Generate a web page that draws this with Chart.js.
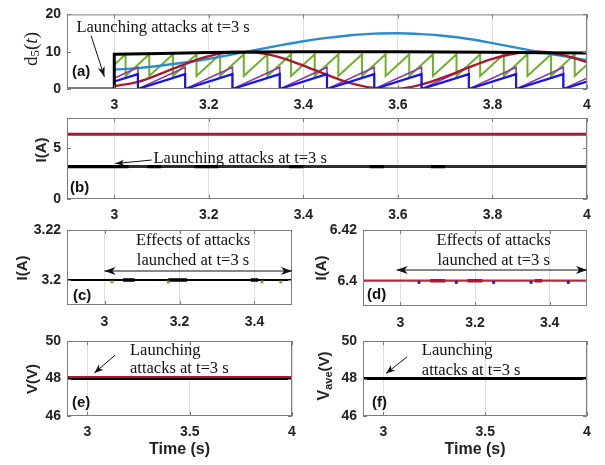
<!DOCTYPE html>
<html>
<head>
<meta charset="utf-8">
<script src="https://cdn.jsdelivr.net/npm/chart.js@4.4.1/dist/chart.umd.min.js"></script>
<style>
  html, body { margin: 0; padding: 0; background: #ffffff; }
  #wrap { position: relative; width: 605px; height: 465px; overflow: hidden; background: #ffffff; }
  #wrap canvas { position: absolute; left: 0; top: 0; }
</style>
</head>
<body>
<div id="wrap"></div>
<script>
// ---------- (a) attack signals d5(t) ----------
const tBlackA = [2.9, 3.0, 3.0, 3.1, 3.2, 3.3, 3.4, 3.5, 3.6, 3.7, 3.8, 3.9, 4.0];
const vBlackA = [0, 0, 9.3, 9.55, 9.8, 9.95, 10, 10, 10, 9.95, 9.85, 9.75, 9.65];

const tSmoothA = [3.00, 3.05, 3.10, 3.15, 3.20, 3.25, 3.30, 3.35, 3.40, 3.45, 3.50,
                  3.55, 3.60, 3.65, 3.70, 3.75, 3.80, 3.85, 3.90, 3.95, 4.00];
const vSkyA = [5.2, 5.6, 6.3, 7.1, 8.1, 9.3, 10.5, 11.7, 12.8, 13.7, 14.4,
               14.85, 14.95, 14.7, 14.2, 13.4, 12.3, 11.1, 9.9, 8.8, 7.7];
const vRedA = [0.8, 1.9, 4.2, 6.7, 8.8, 9.9, 9.8, 8.5, 6.3, 3.8, 1.6,
               0.3, 0.1, 1.2, 3.3, 5.8, 8.1, 9.6, 10.0, 9.1, 7.2];

const tRampA = [3.00, 3.05, 3.05, 3.15, 3.15, 3.25, 3.25, 3.35, 3.35, 3.45, 3.45,
                3.55, 3.55, 3.65, 3.65, 3.75, 3.75, 3.85, 3.85, 3.95, 3.95, 4.00];
const vBlueA = [2.0, 4.0, 0, 4.0, 0, 4.0, 0, 4.0, 0, 4.0, 0,
                4.0, 0, 4.0, 0, 4.0, 0, 4.0, 0, 4.0, 0, 2.0];
const vPurpleA = [2.9, 5.8, 0, 5.8, 0, 5.8, 0, 5.8, 0, 5.8, 0,
                  5.8, 0, 5.8, 0, 5.8, 0, 5.8, 0, 5.8, 0, 2.9];

const tGreenA = [3.000,
  3.024, 3.024, 3.074, 3.074, 3.124, 3.124, 3.174, 3.174, 3.224, 3.224,
  3.274, 3.274, 3.324, 3.324, 3.374, 3.374, 3.424, 3.424, 3.474, 3.474,
  3.524, 3.524, 3.574, 3.574, 3.624, 3.624, 3.674, 3.674, 3.724, 3.724,
  3.774, 3.774, 3.824, 3.824, 3.874, 3.874, 3.924, 3.924, 3.974, 3.974,
  4.000];
const vGreenA = [6.5,
  9.3, 3.5, 9.3, 3.5, 9.3, 3.5, 9.3, 3.5, 9.3, 3.5,
  9.3, 3.5, 9.3, 3.5, 9.3, 3.5, 9.3, 3.5, 9.3, 3.5,
  9.3, 3.5, 9.3, 3.5, 9.3, 3.5, 9.3, 3.5, 9.3, 3.5,
  9.3, 3.5, 9.3, 3.5, 9.3, 3.5, 9.3, 3.5, 9.3, 3.5,
  6.5];

// ---------- (b) currents over the full window ----------
const tB = [2.9, 4.0];
const vRedB = [6.4, 6.4];
const vBlackB = [3.2, 3.2];
const blackSegB = [[2.9, 3.03], [3.07, 3.10], [3.17, 3.22], [3.37, 3.40], [3.54, 3.57], [3.67, 3.70]];

// ---------- (c) current 3.2 A, close-up ----------
const tC = [2.9, 3.5];
const vBlackC = [3.2, 3.2];
const blackSegC = [[3.05, 3.08], [3.17, 3.22], [3.39, 3.41]];
const tGreenDotC = [3.02, 3.17, 3.42, 3.47];
const vGreenDotC = [3.1992, 3.1992, 3.1992, 3.1992];

// ---------- (d) current 6.4 A, close-up ----------
const tD = [2.9, 3.5];
const vRedD = [6.4, 6.4];
const redSegD = [[3.08, 3.12], [3.18, 3.22], [3.36, 3.38]];
const tBlueDotD = [3.05, 3.15, 3.25, 3.35, 3.45];
const vBlueDotD = [6.3993, 6.3993, 6.3993, 6.3993, 6.3993];

// ---------- (e) bus voltages, (f) average voltage ----------
const tE = [2.9, 4.0];
const vBlackE = [48, 48];
const vRedE = [48.08, 48.08];
const tF = [2.9, 4.0];
const vBlackF = [48, 48];

// tick values
const xTicksLong = [3, 3.2, 3.4, 3.6, 3.8, 4];
const xTicksShort = [3, 3.2, 3.4];
const xTicksHalf = [3, 3.5, 4];
const yTicksA = [0, 10, 20];
const yTicksB = [0, 5];
const yTicksC = [3.2, 3.22];
const yTicksD = [6.4, 6.42];
const yTicksV = [46, 48, 50];

// ---------- styling ----------
const SANS = '"Liberation Sans", Arial, Helvetica, sans-serif';
const SERIF = '"Liberation Serif", "Times New Roman", serif';
const COL = {
  black: '#000000', sky: '#2a8ccc', blue: '#1414f0', purple: '#8a3c9c',
  green: '#6fb02a', red: '#a8192f', grid: '#dedede', frame: '#7d7d7d', text: '#222222'
};
const W = 605, H = 465, Y_W = 50, X_H = 30;

function pts(ts, vs) { return ts.map((t, i) => ({ x: t, y: vs[i] })); }
function segPts(segs, level) {
  const out = [];
  segs.forEach(s => { out.push({ x: s[0], y: level }, { x: s[1], y: level }, { x: s[1], y: null }); });
  return out;
}
function line(data, color, width, smooth) {
  return { data, borderColor: color, backgroundColor: color, borderWidth: width, pointRadius: 0,
           fill: false, tension: 0, cubicInterpolationMode: smooth ? 'monotone' : 'default', spanGaps: false };
}
function dots(data, color, r) {
  return { data, showLine: false, pointStyle: 'rect', pointRadius: r, pointBorderWidth: 0,
           pointBackgroundColor: color, borderColor: color, backgroundColor: color };
}
const fmt = v => String(+(+v).toFixed(2));

function arrowHead(ctx, x1, y1, x2, y2, len, wid) {
  const ang = Math.atan2(y2 - y1, x2 - x1);
  ctx.save();
  ctx.translate(x2, y2);
  ctx.rotate(ang);
  ctx.beginPath();
  ctx.moveTo(0, 0);
  ctx.lineTo(-len, -wid / 2);
  ctx.lineTo(-len * 0.72, 0);
  ctx.lineTo(-len, wid / 2);
  ctx.closePath();
  ctx.fill();
  ctx.restore();
}

// frame, inward ticks, annotations and axis titles
const panelDecor = {
  id: 'panelDecor',
  afterDraw(chart, args, o) {
    const ctx = chart.ctx, a = chart.chartArea;
    const xs = chart.scales.x, ys = chart.scales.y;
    const X = v => xs.getPixelForValue(v), Y = v => ys.getPixelForValue(v);
    ctx.save();

    // inward tick marks on all four sides
    ctx.strokeStyle = COL.frame;
    ctx.lineWidth = 1;
    ctx.beginPath();
    xs.ticks.forEach(t => {
      const px = Math.round(X(t.value)) + 0.5;
      ctx.moveTo(px, a.bottom); ctx.lineTo(px, a.bottom - 4);
      ctx.moveTo(px, a.top); ctx.lineTo(px, a.top + 4);
    });
    ys.ticks.forEach(t => {
      const py = Math.round(Y(t.value)) + 0.5;
      ctx.moveTo(a.left, py); ctx.lineTo(a.left + 4, py);
      ctx.moveTo(a.right, py); ctx.lineTo(a.right - 4, py);
    });
    ctx.stroke();
    ctx.strokeRect(a.left + 0.5, a.top + 0.5, a.right - a.left - 1, a.bottom - a.top - 1);

    // serif annotations
    ctx.fillStyle = '#111111';
    ctx.strokeStyle = '#111111';
    ctx.font = '16.5px ' + SERIF;
    ctx.textBaseline = 'alphabetic';
    (o.notes || []).forEach(n => {
      ctx.textAlign = n.align || 'left';
      ctx.fillText(n.text, X(n.t), Y(n.v));
    });

    // arrows
    (o.arrows || []).forEach(ar => {
      const x1 = X(ar.from[0]), y1 = Y(ar.from[1]), x2 = X(ar.to[0]), y2 = Y(ar.to[1]);
      ctx.lineWidth = 1;
      ctx.beginPath(); ctx.moveTo(x1, y1); ctx.lineTo(x2, y2); ctx.stroke();
      arrowHead(ctx, x1, y1, x2, y2, ar.len, ar.wid);
      if (ar.both) arrowHead(ctx, x2, y2, x1, y1, ar.len, ar.wid);
    });

    // panel tag
    if (o.tag) {
      ctx.fillStyle = '#111111';
      ctx.font = 'bold 15px ' + SANS;
      ctx.textAlign = 'left';
      ctx.textBaseline = 'middle';
      ctx.fillText(o.tag.text, a.left + o.tag.dx, a.bottom - o.tag.dy);
    }

    // rotated y title made of styled parts
    if (o.ytitle) {
      const yt = o.ytitle;
      let total = 0;
      yt.parts.forEach(p => { ctx.font = p.font; p.w = ctx.measureText(p.s).width; total += p.w; });
      ctx.save();
      ctx.translate(yt.x, yt.y);
      ctx.rotate(-Math.PI / 2);
      ctx.fillStyle = COL.text;
      ctx.textAlign = 'left';
      ctx.textBaseline = 'middle';
      let cx = -total / 2;
      yt.parts.forEach(p => { ctx.font = p.font; ctx.fillText(p.s, cx, p.dy || 0); cx += p.w; });
      ctx.restore();
    }

    // x title
    if (o.xtitle) {
      ctx.fillStyle = COL.text;
      ctx.font = 'bold 16px ' + SANS;
      ctx.textAlign = 'center';
      ctx.textBaseline = 'middle';
      ctx.fillText(o.xtitle.text, (a.left + a.right) / 2, o.xtitle.y);
    }
    ctx.restore();
  }
};

function makePanel(p) {
  const cv = document.createElement('canvas');
  cv.width = W; cv.height = H;
  document.getElementById('wrap').appendChild(cv);
  const tickFont = { family: SANS, size: 14, weight: 'bold' };
  return new Chart(cv.getContext('2d'), {
    type: 'line',
    data: { datasets: p.datasets },
    options: {
      responsive: false,
      animation: false,
      events: [],
      layout: { padding: { left: p.box.l - Y_W, top: p.box.t, right: W - p.box.r, bottom: H - p.box.b - X_H } },
      plugins: { legend: { display: false }, tooltip: { enabled: false }, panelDecor: p.decor },
      scales: {
        x: {
          type: 'linear', min: p.x[0], max: p.x[1],
          afterBuildTicks: ax => { ax.ticks = p.xt.map(v => ({ value: v })); },
          afterFit: ax => { ax.height = X_H; },
          grid: { color: COL.grid, lineWidth: 1, drawTicks: false },
          border: { display: false },
          ticks: { padding: p.xpad, font: tickFont, color: COL.text, autoSkip: false, maxRotation: 0, callback: fmt }
        },
        y: {
          type: 'linear', min: p.y[0], max: p.y[1],
          afterBuildTicks: ax => { ax.ticks = p.yt.map(v => ({ value: v })); },
          afterFit: ax => { ax.width = Y_W; },
          grid: { display: false, drawTicks: false },
          border: { display: false },
          ticks: { padding: 6, font: tickFont, color: COL.text, autoSkip: false, callback: fmt }
        }
      }
    },
    plugins: [panelDecor]
  });
}

const titleBold = 'bold 15px ' + SANS;

// (a)
makePanel({
  box: { l: 67, t: 9, r: 587, b: 89 }, x: [2.9, 4], xt: xTicksLong, y: [0, 20], yt: yTicksA, xpad: 8,
  datasets: [
    line(pts(tBlackA, vBlackA), COL.black, 3),
    line(pts(tRampA, vBlueA), COL.blue, 2.2),
    line(pts(tSmoothA, vRedA), COL.red, 2.4, true),
    line(pts(tRampA, vPurpleA), COL.purple, 1.6),
    line(pts(tSmoothA, vSkyA), COL.sky, 2.4, true),
    line(pts(tGreenA, vGreenA), COL.green, 2)
  ],
  decor: {
    notes: [{ text: 'Launching attacks at t=3 s', t: 2.92, v: 15.3 }],
    arrows: [{ from: [2.951, 14.3], to: [2.979, 3.3], len: 10, wid: 7 }],
    tag: { text: '(a)', dx: 5, dy: 17 },
    ytitle: { x: 32, y: 49, parts: [
      { s: 'd', font: '19px ' + SERIF },
      { s: '5', font: '13px ' + SERIF, dy: 4 },
      { s: '(', font: '19px ' + SERIF },
      { s: 't', font: 'italic 19px ' + SERIF },
      { s: ')', font: '19px ' + SERIF }
    ] }
  }
});

// (b)
makePanel({
  box: { l: 67, t: 118, r: 587, b: 199 }, x: [2.9, 4], xt: xTicksLong, y: [0, 8], yt: yTicksB, xpad: 8,
  datasets: [
    line(pts(tB, vRedB), COL.red, 3),
    line(segPts(blackSegB, 3.2), COL.black, 3.2),
    line(pts(tB, vBlackB), '#2e2e2e', 3)
  ],
  decor: {
    notes: [{ text: 'Launching attacks at t=3 s', t: 3.083, v: 3.53 }],
    arrows: [{ from: [3.079, 3.85], to: [3.002, 3.5], len: 9, wid: 6 }],
    tag: { text: '(b)', dx: 3, dy: 11 },
    ytitle: { x: 42, y: 150, parts: [{ s: 'I(A)', font: titleBold }] }
  }
});

// (c)
makePanel({
  box: { l: 67, t: 230, r: 292, b: 305 }, x: [2.9, 3.5], xt: xTicksShort, y: [3.19, 3.22], yt: yTicksC, xpad: 9,
  datasets: [
    dots(pts(tGreenDotC, vGreenDotC), COL.green, 2),
    line(segPts(blackSegC, 3.2), COL.black, 3.5),
    line(pts(tC, vBlackC), COL.black, 2.2)
  ],
  decor: {
    notes: [
      { text: 'Effects of attacks', t: 3.236, v: 3.214, align: 'center' },
      { text: 'launched at t=3 s', t: 3.236, v: 3.206, align: 'center' }
    ],
    arrows: [{ from: [3.0, 3.2036], to: [3.5, 3.2036], both: true, len: 11, wid: 8 }],
    tag: { text: '(c)', dx: 6, dy: 9 },
    ytitle: { x: 23, y: 268, parts: [{ s: 'I(A)', font: titleBold }] }
  }
});

// (d)
makePanel({
  box: { l: 363, t: 230, r: 587, b: 306 }, x: [2.9, 3.5], xt: xTicksShort, y: [6.39, 6.42], yt: yTicksD, xpad: 9,
  datasets: [
    dots(pts(tBlueDotD, vBlueDotD), COL.blue, 2),
    line(segPts(redSegD, 6.4), COL.red, 3.5),
    line(pts(tD, vRedD), '#b8283f', 2.2)
  ],
  decor: {
    notes: [
      { text: 'Effects of attacks', t: 3.25, v: 6.4141, align: 'center' },
      { text: 'launched at t=3 s', t: 3.25, v: 6.4062, align: 'center' }
    ],
    arrows: [{ from: [2.99, 6.4042], to: [3.5, 6.4042], both: true, len: 11, wid: 8 }],
    tag: { text: '(d)', dx: 4, dy: 11 },
    ytitle: { x: 322, y: 268, parts: [{ s: 'I(A)', font: titleBold }] }
  }
});

// (e)
makePanel({
  box: { l: 67, t: 341, r: 292, b: 416 }, x: [2.9, 4], xt: xTicksHalf, y: [46, 50], yt: yTicksV, xpad: 8,
  datasets: [
    line(pts(tE, vRedE), COL.red, 2),
    line(pts(tE, vBlackE), COL.black, 2.8)
  ],
  decor: {
    notes: [
      { text: 'Launching', t: 3.208, v: 49.28 },
      { text: 'attacks at t=3 s', t: 3.208, v: 48.27 }
    ],
    arrows: [{ from: [3.135, 49.24], to: [3.034, 48.3], len: 9, wid: 7 }],
    tag: { text: '(e)', dx: 5, dy: 13 },
    ytitle: { x: 33, y: 379, parts: [{ s: 'V(V)', font: titleBold }] },
    xtitle: { text: 'Time (s)', y: 450 }
  }
});

// (f)
makePanel({
  box: { l: 363, t: 341, r: 587, b: 416 }, x: [2.9, 4], xt: xTicksHalf, y: [46, 50], yt: yTicksV, xpad: 8,
  datasets: [
    line(pts(tF, vBlackF), COL.black, 3)
  ],
  decor: {
    notes: [
      { text: 'Launching', t: 3.189, v: 49.25 },
      { text: 'attacks at t=3 s', t: 3.189, v: 48.19 }
    ],
    arrows: [{ from: [3.116, 49.15], to: [3.013, 48.27], len: 9, wid: 7 }],
    tag: { text: '(f)', dx: 9, dy: 13 },
    ytitle: { x: 325, y: 376, parts: [
      { s: 'V', font: 'bold 16px ' + SANS },
      { s: 'ave', font: 'bold 11px ' + SANS, dy: 4 },
      { s: '(V)', font: 'bold 15px ' + SANS }
    ] },
    xtitle: { text: 'Time (s)', y: 450 }
  }
});
</script>
</body>
</html>
